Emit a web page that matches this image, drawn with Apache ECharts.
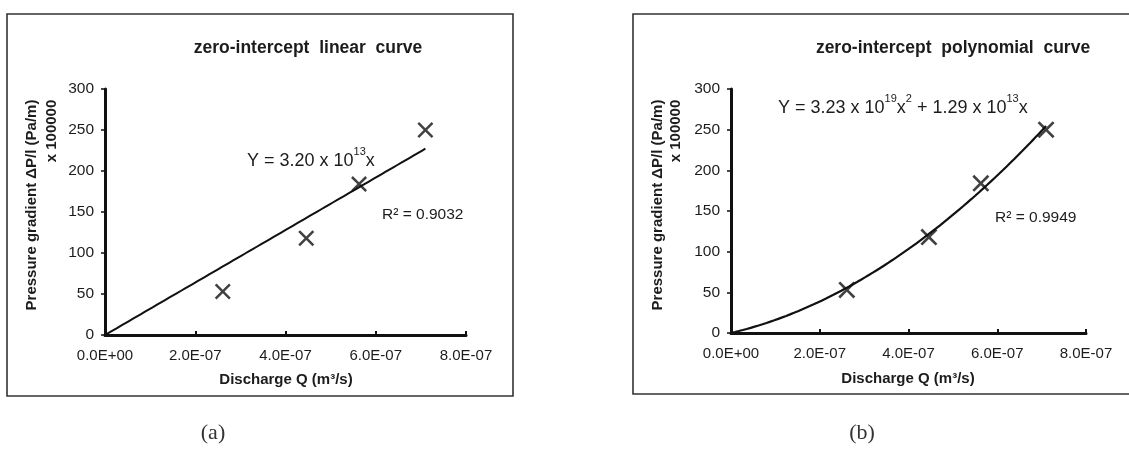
<!DOCTYPE html>
<html>
<head>
<meta charset="utf-8">
<script src="https://cdn.jsdelivr.net/npm/echarts@6/dist/echarts.min.js"></script>
<style>
  html, body { margin: 0; padding: 0; background: #fff; }
  #chart { width: 1129px; height: 468px; }
</style>
</head>
<body>
<div id="chart"></div>
<script>
// Measured flow: discharge Q (m^3/s) and pressure gradient (Pa/m, divided by 100000)
const discharge = [2.61e-7, 4.46e-7, 5.63e-7, 7.10e-7];
const gradient = [53, 118, 184, 250];

// Fitted trend coefficients (Pa/m per unit of Q)
const linearSlope = 3.20e13;          // Y = 3.20 x 10^13 x
const polyQuad = 3.23e19;             // Y = 3.23 x 10^19 x^2 + 1.29 x 10^13 x
const polyLin = 1.29e13;
const gradientUnit = 100000;
const rSquaredLinear = '0.9032';
const rSquaredPoly = '0.9949';

// Axis ticks
const xTickLabels = ['0.0E+00', '2.0E-07', '4.0E-07', '6.0E-07', '8.0E-07'];
const xStep = 2e-7;
const yTickLabels = ['0', '50', '100', '150', '200', '250', '300'];
const yStep = 50;

const FONT = '"Liberation Sans", Arial, sans-serif';
const INK = '#111';
const TXT = '#1c1c1c';

// trend curves drawn from the stated equations, 0 .. last measured discharge
function trend(fn) {
  const end = discharge[discharge.length - 1];
  const n = 80;
  const pts = [];
  for (let i = 0; i <= n; i++) {
    const q = end * i / n;
    pts.push([q, fn(q) / gradientUnit]);
  }
  return pts;
}
const linearTrend = trend(q => linearSlope * q);
const polyTrend = trend(q => polyQuad * q * q + polyLin * q);
const points = discharge.map((q, i) => [q, gradient[i]]);

// X-shaped marker as a filled outline
const crossPath = 'path://M0,11L11,0L50,39L89,0L100,11L61,50L100,89L89,100L50,61L11,100L0,89L39,50Z';

function xAxisFor(gridIndex) {
  return {
    type: 'value', gridIndex, min: 0, max: xStep * (xTickLabels.length - 1), interval: xStep,
    axisLine: { show: true, onZero: false, lineStyle: { color: INK, width: 3 } },
    axisTick: { show: true, inside: true, length: 4, lineStyle: { color: INK, width: 2 } },
    axisLabel: {
      color: TXT, fontFamily: FONT, fontSize: 15, margin: 13,
      formatter: v => xTickLabels[Math.round(v / xStep)]
    },
    splitLine: { show: false }
  };
}
function yAxisFor(gridIndex) {
  return {
    type: 'value', gridIndex, min: 0, max: yStep * (yTickLabels.length - 1), interval: yStep,
    axisLine: { show: true, onZero: false, lineStyle: { color: INK, width: 3 } },
    axisTick: { show: true, inside: false, length: 4, lineStyle: { color: INK, width: 1.5 } },
    axisLabel: {
      color: TXT, fontFamily: FONT, fontSize: 15.5, margin: 11,
      formatter: v => yTickLabels[Math.round(v / yStep)]
    },
    splitLine: { show: false }
  };
}

function text(x, y, str, opts) {
  return {
    type: 'text', x, y, silent: true,
    style: Object.assign({
      text: str, fill: TXT, font: '15px ' + FONT,
      align: 'center', verticalAlign: 'middle'
    }, opts || {})
  };
}
function richText(x, y, str, size) {
  return {
    type: 'text', x, y, silent: true,
    style: {
      text: str, fill: TXT, font: size + 'px ' + FONT,
      align: 'left', verticalAlign: 'middle', lineHeight: size + 6,
      rich: {
        n: { fontFamily: FONT, fontSize: size, fill: TXT, lineHeight: size + 6, verticalAlign: 'bottom' },
        s: { fontFamily: FONT, fontSize: Math.round(size * 0.62), fill: TXT, lineHeight: size + 6, verticalAlign: 'top' }
      }
    }
  };
}
function rotated(x, y, str) {
  return {
    type: 'text', x, y, rotation: Math.PI / 2, silent: true,
    style: { text: str, fill: TXT, font: 'bold 15px ' + FONT, align: 'center', verticalAlign: 'middle' }
  };
}

const chart = echarts.init(document.getElementById('chart'), null, { renderer: 'canvas' });
chart.setOption({
  backgroundColor: '#fff',
  animation: false,
  grid: [
    { left: 105, top: 89, width: 361, height: 246 },
    { left: 731, top: 89, width: 355, height: 244 }
  ],
  xAxis: [xAxisFor(0), xAxisFor(1)],
  yAxis: [yAxisFor(0), yAxisFor(1)],
  series: [
    {
      type: 'line', xAxisIndex: 0, yAxisIndex: 0, data: linearTrend,
      showSymbol: false, lineStyle: { color: INK, width: 2 }, z: 2
    },
    {
      type: 'scatter', xAxisIndex: 0, yAxisIndex: 0, data: points,
      symbol: crossPath, symbolSize: 16, itemStyle: { color: INK }, z: 3
    },
    {
      type: 'line', xAxisIndex: 1, yAxisIndex: 1, data: polyTrend,
      showSymbol: false, lineStyle: { color: INK, width: 2.2 }, z: 2
    },
    {
      type: 'scatter', xAxisIndex: 1, yAxisIndex: 1, data: points,
      symbol: crossPath, symbolSize: 17, itemStyle: { color: INK }, z: 3
    }
  ],
  graphic: [
    // panel frames
    { type: 'rect', silent: true, shape: { x: 7, y: 14, width: 506, height: 382 },
      style: { fill: 'none', stroke: '#333', lineWidth: 1.6 } },
    { type: 'rect', silent: true, shape: { x: 633, y: 14, width: 520, height: 380 },
      style: { fill: 'none', stroke: '#333', lineWidth: 1.6 } },

    // titles
    text(308, 48, 'zero-intercept  linear  curve', { font: 'bold 17.5px ' + FONT }),
    text(953, 48, 'zero-intercept  polynomial  curve', { font: 'bold 17.5px ' + FONT }),

    // axis titles
    text(286, 380, 'Discharge Q (m\u00b3/s)', { font: 'bold 15px ' + FONT }),
    text(908, 379, 'Discharge Q (m\u00b3/s)', { font: 'bold 15px ' + FONT }),
    rotated(32, 205, 'Pressure gradient \u0394P/l (Pa/m)'),
    rotated(52, 131, 'x 100000'),
    rotated(658, 205, 'Pressure gradient \u0394P/l (Pa/m)'),
    rotated(676, 131, 'x 100000'),

    // fitted equations
    richText(247, 158, '{n|Y = 3.20 x 10}{s|13}{n|x}', 18),
    text(382, 215, 'R\u00b2 = ' + rSquaredLinear, { align: 'left', font: '15.5px ' + FONT }),
    richText(778, 105, '{n|Y = 3.23 x 10}{s|19}{n|x}{s|2}{n| + 1.29 x 10}{s|13}{n|x}', 18),
    text(995, 218, 'R\u00b2 = ' + rSquaredPoly, { align: 'left', font: '15.5px ' + FONT }),

    // panel captions
    text(213, 433, '(a)', { font: '22px "Liberation Serif", "Times New Roman", serif', fill: '#333' }),
    text(862, 433, '(b)', { font: '22px "Liberation Serif", "Times New Roman", serif', fill: '#333' })
  ]
});
</script>
</body>
</html>
